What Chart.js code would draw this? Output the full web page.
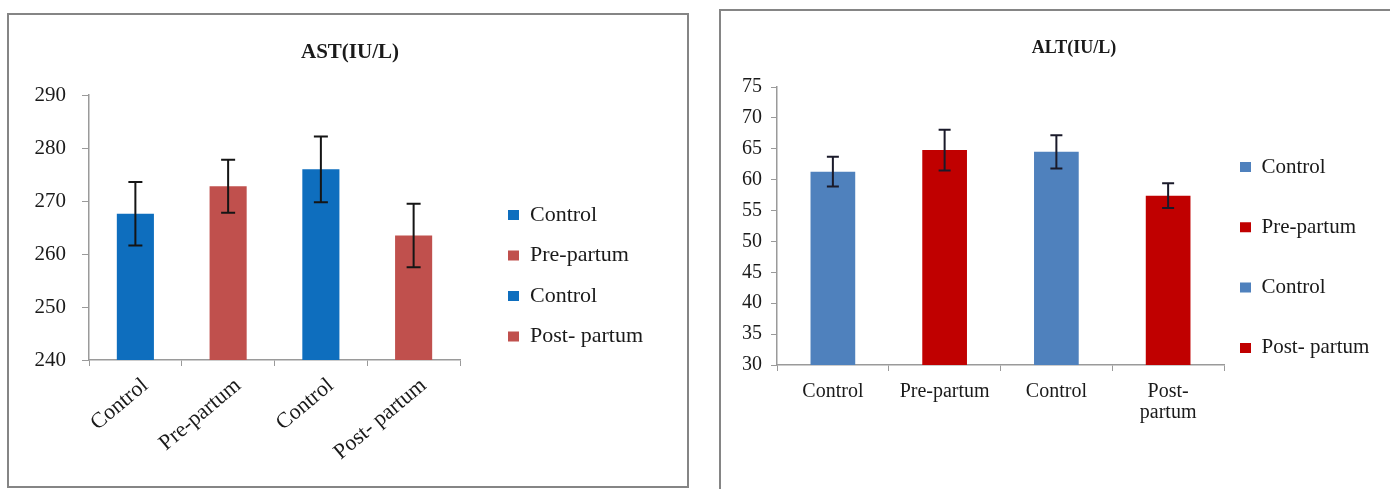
<!DOCTYPE html>
<html><head><meta charset="utf-8">
<script src="https://cdn.jsdelivr.net/npm/chart.js@4.4.1/dist/chart.umd.min.js"></script>
<style>
html,body{margin:0;padding:0;background:#fff;width:1390px;height:489px;overflow:hidden;position:relative}
.panel{position:absolute;border:2px solid #858585;box-sizing:border-box;background:#fff}
#p1{left:7px;top:13px;width:682px;height:475px}
#p2{left:719px;top:9px;width:700px;height:500px}
.wrap{position:absolute;top:0}
#w1{left:0;width:700px;height:489px}
#w2{left:700px;width:748px;height:489px}
</style></head>
<body>
<div class="panel" id="p1"></div><div class="panel" id="p2"></div>
<div class="wrap" id="w1"><canvas id="c1" width="700" height="489"></canvas></div>
<div class="wrap" id="w2"><canvas id="c2" width="748" height="489"></canvas></div>
<script>
// ---- data ----
const astTitle = 'AST(IU/L)';
const astCategories = ['Control', 'Pre-partum', 'Control', 'Post- partum'];
const astValues = [267.6, 272.8, 276.0, 263.5];
const astErrors = [6.0, 5.0, 6.2, 6.0];
const astTicks = [240, 250, 260, 270, 280, 290];
const astColors = ['#0E6EBE', '#C0504D', '#0E6EBE', '#C0504D'];

const altTitle = 'ALT(IU/L)';
const altCategories = [['Control'], ['Pre-partum'], ['Control'], ['Post-', 'partum']];
const altLegendLabels = ['Control', 'Pre-partum', 'Control', 'Post- partum'];
const altValues = [61.3, 64.8, 64.5, 57.4];
const altErrors = [2.4, 3.3, 2.7, 2.0];
const altTicks = [30, 35, 40, 45, 50, 55, 60, 65, 70, 75];
const altColors = ['#4F81BD', '#C00000', '#4F81BD', '#C00000'];

// ---- plugins ----
function errorBars(errs, color, width, cap) {
  return {
    id: 'errorBars',
    afterDatasetsDraw(chart) {
      const meta = chart.getDatasetMeta(0);
      const ys = chart.scales.y;
      const vals = chart.data.datasets[0].data;
      const ctx = chart.ctx;
      ctx.save();
      ctx.strokeStyle = color;
      ctx.lineWidth = width;
      meta.data.forEach((bar, i) => {
        const t = ys.getPixelForValue(vals[i] + errs[i]);
        const b = ys.getPixelForValue(vals[i] - errs[i]);
        ctx.beginPath();
        ctx.moveTo(bar.x, t); ctx.lineTo(bar.x, b);
        ctx.moveTo(bar.x - cap, t); ctx.lineTo(bar.x + cap, t);
        ctx.moveTo(bar.x - cap, b); ctx.lineTo(bar.x + cap, b);
        ctx.stroke();
      });
      ctx.restore();
    }
  };
}
function legendPlacer(width, x, y) {
  return {
    id: 'legendPlacer',
    beforeInit(chart) {
      const lg = chart.legend;
      const fit = lg.fit;
      lg.fit = function () { fit.call(this); this.width = width; };
    },
    afterLayout(chart) {
      const lg = chart.legend;
      const p = lg.options.labels.padding;
      const dx = x - (lg.left + p);
      lg.left += dx; lg.right += dx;
      const dy = y - (lg.top + p);
      lg.top += dy; lg.bottom += dy;
    }
  };
}

function makeChart(id, o) {
  return new Chart(document.getElementById(id), {
    type: 'bar',
    data: {
      labels: o.labels,
      datasets: [{ data: o.values, backgroundColor: o.colors, borderWidth: 0,
                   categoryPercentage: 1, barPercentage: 0.4 }]
    },
    options: {
      responsive: false, animation: false, devicePixelRatio: 1,
      layout: { padding: { left: 0, right: 0, top: 0, bottom: 0 } },
      plugins: {
        tooltip: { enabled: false },
        title: { display: true, text: o.title, color: '#1a1a1a',
                 font: { family: 'Liberation Serif', size: o.titleSize, weight: 'bold', lineHeight: 1.2 },
                 padding: { top: o.titleTop, bottom: o.titleBottom } },
        legend: {
          display: true, position: 'right', align: 'start',
          labels: {
            color: '#1a1a1a', boxWidth: 11, boxHeight: 10, padding: o.legendPad,
            font: { family: 'Liberation Serif', size: o.legendSize },
            generateLabels: () => o.legend.map((t, i) => ({
              text: t, fillStyle: o.colors[i], strokeStyle: o.colors[i], lineWidth: 0,
              hidden: false, index: i, fontColor: '#1a1a1a'
            }))
          }
        }
      },
      scales: {
        x: {
          grid: { display: true, drawOnChartArea: false, drawTicks: true, tickLength: 6, color: '#9a9a9a', offset: true },
          border: { color: '#9a9a9a', width: 1.5 },
          ticks: { color: '#1a1a1a', autoSkip: false, maxRotation: o.rot, minRotation: o.rot, padding: o.xPad,
                   labelOffset: o.xOff,
                   font: { family: 'Liberation Serif', size: o.xSize, lineHeight: 1.05 } },
          afterFit(s) { s.height = o.xH; }
        },
        y: {
          min: o.ticks[0], max: o.ticks[o.ticks.length - 1],
          grid: { display: true, drawOnChartArea: false, drawTicks: true, tickLength: o.tickLen, color: '#9a9a9a' },
          border: { color: '#9a9a9a', width: 1.5 },
          ticks: { color: '#1a1a1a', padding: o.yPad, font: { family: 'Liberation Serif', size: o.yFontSize } },
          afterBuildTicks(s) { s.ticks = o.ticks.map(v => ({ value: v })); },
          afterFit(s) { s.width = o.yW; }
        }
      }
    },
    plugins: [errorBars(o.errors, o.errColor, 2, o.cap), legendPlacer(o.legendW, o.legendX, o.legendY)]
  });
}

// left panel: canvas 0..700, centre 350
makeChart('c1', {
  labels: astCategories, values: astValues, errors: astErrors, colors: astColors,
  legend: astCategories, title: astTitle, ticks: astTicks,
  titleSize: 21, titleTop: 40, titleBottom: 30, xH: 129, yW: 89,
  rot: 40, xPad: 8, xOff: 10, xSize: 22, tickLen: 7, yPad: 16, yFontSize: 21,
  legendSize: 22, legendPad: 18.5, legendW: 240, legendX: 508, legendY: 204,
  errColor: '#151515', cap: 7
});

// right panel: canvas 700..1448, centre 1074
makeChart('c2', {
  labels: altCategories, values: altValues, errors: altErrors, colors: altColors,
  legend: altLegendLabels, title: altTitle, ticks: altTicks,
  titleSize: 18, titleTop: 38, titleBottom: 27.4, xH: 124, yW: 77,
  rot: 0, xPad: 10, xOff: 0, xSize: 20, tickLen: 6, yPad: 9, yFontSize: 20,
  legendSize: 21, legendPad: 39.3, legendW: 224, legendX: 540, legendY: 156.5,
  errColor: '#1a1a2a', cap: 6
});
</script>
</body></html>
